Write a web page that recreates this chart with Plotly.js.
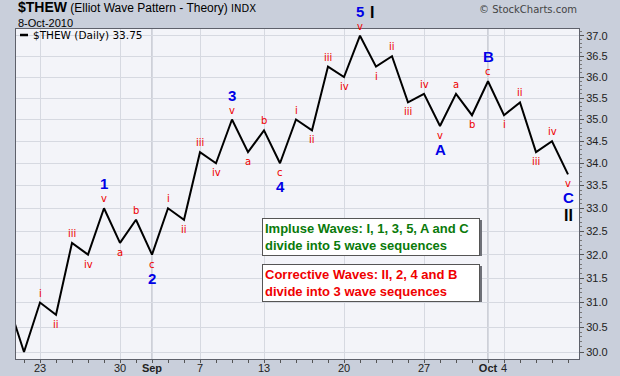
<!DOCTYPE html>
<html>
<head>
<meta charset="utf-8">
<script src="https://cdn.plot.ly/plotly-3.0.1.min.js"></script>
<style>html,body{margin:0;padding:0;background:#C9CFDB;}#chart{width:620px;height:376px;}</style>
</head>
<body>
<div id="chart"></div>
<script>
// ---- data ----
const dates = ['2010-08-19','2010-08-20','2010-08-23','2010-08-24','2010-08-25','2010-08-26','2010-08-27',
  '2010-08-30','2010-08-31','2010-09-01','2010-09-02','2010-09-03','2010-09-07','2010-09-08','2010-09-09',
  '2010-09-10','2010-09-13','2010-09-14','2010-09-15','2010-09-16','2010-09-17','2010-09-20','2010-09-21',
  '2010-09-22','2010-09-23','2010-09-24','2010-09-27','2010-09-28','2010-09-29','2010-09-30','2010-10-01',
  '2010-10-04','2010-10-05','2010-10-06','2010-10-07','2010-10-08'];
const closes = [31.0,30.0,31.0,30.75,32.25,32.0,33.0,32.25,32.75,32.0,33.0,32.75,34.25,34.0,35.0,34.25,
  34.75,34.0,35.0,34.75,36.25,36.0,37.0,36.25,36.5,35.4,35.6,34.85,35.6,35.1,35.9,35.1,35.4,34.25,34.5,33.75];
const subLabels = ['','','i','ii','iii','iv','v','a','b','c','i','ii','iii','iv','v','a','b','c',
  'i','ii','iii','iv','v','i','ii','iii','iv','v','a','b','c','i','ii','iii','iv','v'];
const waveDates = ['2010-08-27','2010-09-01','2010-09-09','2010-09-14','2010-09-21','2010-09-28','2010-10-01','2010-10-08'];
const waveLabels = ['1','2','3','4','5','A','B','C'];
const degreeDates = ['2010-09-21','2010-10-08'];
const degreeLabels = ['I','II'];
const tickDates = ['2010-08-23','2010-08-30','2010-09-01','2010-09-07','2010-09-13','2010-09-20','2010-09-27','2010-10-01','2010-10-04'];
const tickLabels = ['23','30','<b>Sep</b>','7','13','20','27','<b>Oct</b>','4'];
const monthDates = ['2010-09-01','2010-10-01'];
const yTicks = [30.0,30.5,31.0,31.5,32.0,32.5,33.0,33.5,34.0,34.5,35.0,35.5,36.0,36.5,37.0];
const symbolName = '$THEW';
const chartDate = '8-Oct-2010';
const noteImpulse = 'Impluse Waves: I, 1, 3, 5, A and C<br>divide into 5 wave sequences';
const noteCorrective = 'Corrective Waves: II, 2, 4 and B<br>divide into 3 wave sequences';

// ---- helpers ----
function isPeak(i){
  const v = closes[i];
  const p = i > 0 ? closes[i-1] : -Infinity;
  const n = i < closes.length-1 ? closes[i+1] : -Infinity;
  return v >= p && v >= n;
}
const yMinor = [];
for (let k = 300; k <= 372; k++) yMinor.push(k/10);

const RED = '#EE0000', BLUE = '#0000E6';
const annotations = [];
const fontSmall = {family:'DejaVu Sans', size:10, color:RED};

subLabels.forEach((lab, i) => {
  if (!lab) return;
  const up = isPeak(i);
  annotations.push({x:dates[i], y:Math.log10(closes[i]), xref:'x', yref:'y', text:lab, showarrow:false,
    font:fontSmall, yanchor: up ? 'bottom':'top', yshift: up ? 2 : -2});
});
waveLabels.forEach((lab, j) => {
  const i = dates.indexOf(waveDates[j]);
  const up = isPeak(i);
  annotations.push({x:dates[i], y:Math.log10(closes[i]), xref:'x', yref:'y', text:'<b>'+lab+'</b>', showarrow:false,
    font:{family:'Liberation Sans', size:15, color:BLUE}, yanchor: up ? 'bottom':'top', yshift: up ? 14 : -13});
});
degreeLabels.forEach((lab, j) => {
  const i = dates.indexOf(degreeDates[j]);
  const up = isPeak(i);
  annotations.push({x:dates[i], y:Math.log10(closes[i]), xref:'x', yref:'y', text:'<b>'+lab+'</b>', showarrow:false,
    font:{family:'Liberation Sans', size:16, color:'#000'}, yanchor: up ? 'bottom':'top',
    yshift: up ? 13 : -31, xshift: up ? 12 : 0});
});

// header texts (paper coords)
annotations.push({xref:'paper', yref:'paper', x:0, y:1.0364, xanchor:'left', yanchor:'bottom', showarrow:false,
  text:'<b><span style="font-size:14px">'+symbolName+'</span></b> <span style="font-size:12px">(Elliot Wave Pattern - Theory)</span> <span style="font-size:10px;font-family:DejaVu Sans">INDX</span>',
  font:{family:'Liberation Sans', size:12, color:'#000'}});
annotations.push({xref:'paper', yref:'paper', x:0, y:1.0, xanchor:'left', yanchor:'bottom', yshift:-2, showarrow:false,
  text:chartDate, font:{family:'Liberation Sans', size:11, color:'#000'}});
annotations.push({xref:'paper', yref:'paper', x:1, y:1.058, xanchor:'right', yanchor:'middle', showarrow:false,
  text:'© StockCharts.com', font:{family:'DejaVu Sans', size:10, color:'#444'}});
annotations.push({xref:'paper', yref:'paper', x:0.0263, y:0.9818, xanchor:'left', yanchor:'middle', showarrow:false,
  text:symbolName+' (Daily) '+closes[closes.length-1].toFixed(2), font:{family:'DejaVu Sans', size:10.5, color:'#000'}});

// note boxes (shadow + box)
function noteBox(txt, color, ytop){
  annotations.push({xref:'paper', yref:'paper', x:0.437, y:ytop, xanchor:'left', yanchor:'top', showarrow:false,
    text:' ', width:212, height:30, bgcolor:'#6E7078', bordercolor:'#6E7078', borderwidth:1, borderpad:2,
    xshift:2, yshift:-2});
  annotations.push({xref:'paper', yref:'paper', x:0.437, y:ytop, xanchor:'left', yanchor:'top', showarrow:false,
    text:'<b>'+txt+'</b>', align:'left', width:212, font:{family:'Liberation Sans', size:13, color:color},
    bgcolor:'#FFFFFF', bordercolor:'#555', borderwidth:1, borderpad:2});
}
noteBox(noteImpulse, '#0A7A0A', 0.4273);
noteBox(noteCorrective, '#F00000', 0.2879);

const shapes = monthDates.map(d => ({type:'line', xref:'x', yref:'paper', x0:d, x1:d, y0:0, y1:1,
  line:{color:'#A9ACB6', width:1}, layer:'below'}));
shapes.push({type:'line', xref:'paper', yref:'paper', x0:0.0071, x1:0.0213, y0:0.9818, y1:0.9818,
  line:{color:'#000', width:2.5}});

const trace = {x:dates, y:closes, type:'scatter', mode:'lines', line:{color:'#000', width:2}, hoverinfo:'skip'};

const layout = {
  width:620, height:376,
  margin:{l:16, r:41, t:29, b:17},
  paper_bgcolor:'#C9CFDB', plot_bgcolor:'#F3F4F9',
  showlegend:false,
  xaxis:{type:'date', range:['2010-08-19 12:00','2010-10-08 16:30'],
    rangebreaks:[{bounds:['sat','mon']},{values:['2010-09-06']}],
    tickmode:'array', tickvals:tickDates, ticktext:tickLabels, tickangle:0,
    ticks:'outside', ticklen:3, tickcolor:'#555', ticklabelstandoff:-4,
    minor:{tickmode:'array', tickvals:dates, ticks:'outside', ticklen:3, tickcolor:'#555', showgrid:false},
    showgrid:true, gridcolor:'#D6D9E1', gridwidth:1,
    showline:true, linecolor:'#5E616B', linewidth:1, mirror:true, zeroline:false,
    tickfont:{family:'Liberation Sans', size:11, color:'#222'}, fixedrange:true},
  yaxis:{type:'log', side:'right', range:[1.475105, 1.570131],
    tickmode:'array', tickvals:yTicks, ticktext:yTicks.map(v=>v.toFixed(1)),
    ticks:'outside', ticklen:4, tickcolor:'#555',
    minor:{tickmode:'array', tickvals:yMinor, ticks:'outside', ticklen:2, tickcolor:'#777', showgrid:false},
    showgrid:true, gridcolor:'#D6D9E1', gridwidth:1,
    showline:true, linecolor:'#5E616B', linewidth:1, mirror:true, zeroline:false,
    tickfont:{family:'Liberation Sans', size:11, color:'#222'}, fixedrange:true},
  annotations:annotations,
  shapes:shapes
};

Plotly.newPlot('chart', [trace], layout, {displayModeBar:false, staticPlot:true});
</script>
</body>
</html>
